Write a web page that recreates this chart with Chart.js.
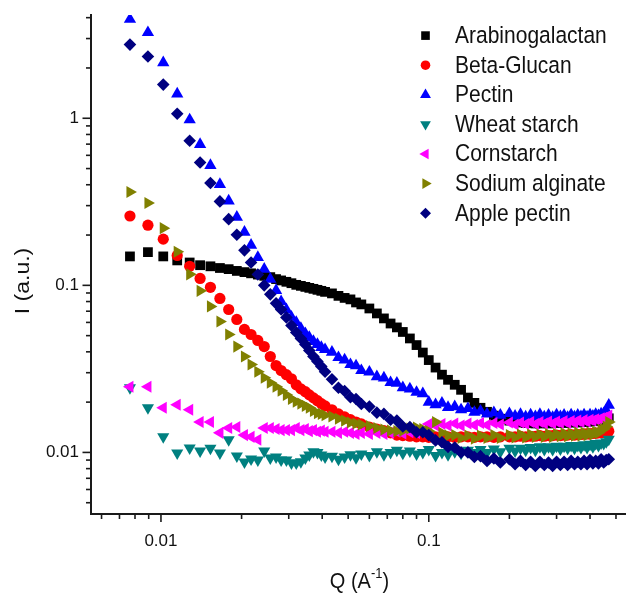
<!DOCTYPE html>
<html><head><meta charset="utf-8">
<script src="https://cdn.jsdelivr.net/npm/chart.js@4.4.0/dist/chart.umd.min.js"></script>
<style>html,body{margin:0;padding:0;background:#fff;}#wrap{width:626px;height:594px;}</style>
</head><body><div id="wrap"><canvas id="c" width="626" height="594"></canvas></div>
<script>
// Q values (A^-1)
const Q = [0.00766,0.00894,0.0102,0.0115,0.0128,0.0140,0.0153,0.0166,0.0179,0.0192,0.0205,0.0217,0.0230,0.0243,0.0256,0.0269,0.0281,0.0294,0.0307,0.0320,0.0333,0.0346,0.0358,0.0371,0.0384,0.0397,0.0410,
0.0435,0.046,0.0485,0.051,0.0535,0.056,0.060,0.064,0.068,0.072,0.076,0.080,0.085,0.090,0.095,
0.100,0.106,0.112,0.118,0.125,0.132,0.140,0.148,0.156,0.165,0.175,0.185,
0.20,0.21,0.22,0.23,0.24,0.25,0.26,0.27,0.28,0.29,0.30,0.31,0.32,0.33,0.34,0.35,0.36,0.37,0.38,0.39,0.40,0.41,0.42,0.43,0.44,0.45,0.46,0.47];

const arabinogalactan = [0.149,0.158,0.149,0.141,0.137,0.132,0.130,0.127,0.125,0.122,0.120,0.118,0.116,0.114,0.112,0.109,0.107,0.105,0.103,0.1007,0.0993,0.0979,0.0966,0.0953,0.0940,0.0927,0.0914,
0.0895,0.0865,0.0841,0.0824,0.0790,0.0769,0.0727,0.0679,0.0634,0.0591,0.0560,0.0526,0.0481,0.0439,0.0396,
0.0357,0.0322,0.0292,0.0272,0.0254,0.0237,0.0213,0.0198,0.0185,0.0175,0.0166,0.0159,
0.0155,0.0152,0.0151,0.0150,0.0150,0.0149,0.0149,0.0150,0.0149,0.0150,0.0150,0.0151,0.0150,0.0151,0.0151,0.0152,0.0151,0.0152,0.0152,0.0153,0.0153,0.0154,0.0154,0.0155,0.0156,0.0157,0.0158,0.0160];

const betaGlucan = [0.260,0.229,0.189,0.151,0.130,0.110,0.0973,0.0835,0.0717,0.0625,0.0545,0.0508,0.0468,0.0430,0.0375,0.0331,0.0309,0.0292,0.0276,0.0254,0.0240,0.0231,0.0221,0.0212,0.0204,0.0196,0.0190,
0.0180,0.0170,0.0163,0.0157,0.0152,0.0148,0.0142,0.0138,0.0135,0.0131,0.0127,0.0126,0.0125,0.0124,0.0124,
0.0123,0.0124,0.0123,0.0124,0.0123,0.0124,0.0124,0.0123,0.0124,0.0124,0.0123,0.0124,
0.0124,0.0124,0.0125,0.0124,0.0125,0.0125,0.0126,0.0125,0.0126,0.0126,0.0127,0.0126,0.0127,0.0127,0.0128,0.0127,0.0128,0.0128,0.0129,0.0129,0.0129,0.0130,0.0130,0.0131,0.0131,0.0132,0.0133,0.0134];

const pectin = [3.91,3.26,2.15,1.40,0.980,0.698,0.522,0.402,0.320,0.256,0.208,0.174,0.147,0.125,0.109,0.0933,0.0800,0.0715,0.0645,0.0600,0.0552,0.0515,0.0488,0.0462,0.0443,0.0425,0.0413,
0.0398,0.0370,0.0358,0.0336,0.0330,0.0309,0.0303,0.0284,0.0279,0.0262,0.0260,0.0244,0.0240,0.0229,0.0225,
0.0200,0.0193,0.0197,0.0186,0.0188,0.0180,0.0183,0.0174,0.0177,0.0170,0.0173,0.0167,
0.0171,0.0165,0.0169,0.0163,0.0168,0.0164,0.0169,0.0163,0.0167,0.0162,0.0168,0.0164,0.0167,0.0162,0.0168,0.0163,0.0167,0.0164,0.0168,0.0163,0.0168,0.0165,0.0169,0.0166,0.0170,0.0171,0.0178,0.0192];

const wheatStarch = [0.0244,0.0185,0.0124,0.00993,0.01064,0.0102,0.0106,0.00993,0.0119,0.00953,0.00877,0.00914,0.00902,0.0102,0.00927,0.00940,0.00902,0.00902,0.00865,0.00865,0.00880,0.00927,0.00966,0.0101,0.0100,0.00966,0.00940,
0.0095,0.0091,0.0094,0.0097,0.0093,0.0098,0.0096,0.0101,0.0097,0.0100,0.0103,0.0099,0.0102,0.0098,0.0100,
0.0104,0.0096,0.0100,0.0097,0.0101,0.0099,0.0103,0.0100,0.0104,0.0100,0.0105,0.0101,
0.0106,0.0102,0.0106,0.0103,0.0107,0.0103,0.0108,0.0104,0.0108,0.0104,0.0109,0.0105,0.0109,0.0106,0.0110,0.0106,0.0110,0.0107,0.0111,0.0107,0.0112,0.0108,0.0113,0.0110,0.0114,0.0113,0.0116,0.0120];

const cornstarch = [0.0247,0.0247,0.0185,0.0193,0.0180,0.0152,0.0152,0.0131,0.0140,0.0142,0.0127,0.0124,0.0119,0.0140,0.0140,0.0138,0.0136,0.0136,0.0136,0.0140,0.0136,0.0138,0.0134,0.0136,0.0133,0.0135,0.0133,
0.0133,0.0131,0.0133,0.0131,0.0129,0.0131,0.0129,0.0131,0.0129,0.0131,0.0133,0.0130,0.0132,0.0131,0.0133,
0.0148,0.0145,0.0148,0.0145,0.0149,0.0145,0.0149,0.0146,0.0150,0.0146,0.0150,0.0147,
0.0151,0.0147,0.0151,0.0148,0.0152,0.0148,0.0152,0.0149,0.0153,0.0149,0.0153,0.0150,0.0154,0.0150,0.0154,0.0151,0.0155,0.0152,0.0156,0.0153,0.0157,0.0155,0.0158,0.0157,0.0160,0.0161,0.0163,0.0166];

const sodiumAlginate = [0.362,0.311,0.220,0.159,0.1164,0.0927,0.0748,0.0608,0.0508,0.0430,0.0375,0.0336,0.0304,0.0280,0.0261,0.0247,0.0234,0.0221,0.0209,0.0201,0.0196,0.0190,0.0185,0.0177,0.0172,0.0170,0.0167,
0.0164,0.0159,0.0155,0.0151,0.0149,0.0147,0.0144,0.0140,0.0137,0.0135,0.0134,0.0135,0.0139,0.0141,0.0138,
0.0134,0.0152,0.0131,0.0126,0.0127,0.0122,0.0126,0.0121,0.0126,0.0122,0.0127,0.0122,
0.0127,0.0123,0.0128,0.0123,0.0128,0.0124,0.0128,0.0124,0.0129,0.0124,0.0129,0.0125,0.0130,0.0125,0.0130,0.0126,0.0131,0.0126,0.0131,0.0127,0.0132,0.0128,0.0133,0.0131,0.0136,0.0138,0.0143,0.0152];

const applePectin = [2.76,2.34,1.59,1.064,0.733,0.544,0.410,0.318,0.249,0.201,0.162,0.137,0.116,0.100,0.0883,0.0780,0.0718,0.0643,0.0575,0.0522,0.0481,0.0443,0.0407,0.0375,0.0350,0.0327,0.0304,
0.0274,0.0244,0.0233,0.0214,0.0209,0.0195,0.0188,0.0173,0.0170,0.0157,0.0155,0.0143,0.0142,0.0132,0.0132,
0.0127,0.0118,0.0115,0.0108,0.0107,0.0100,0.0100,0.0094,0.0095,0.0089,0.0092,0.0087,
0.0091,0.0085,0.0089,0.0084,0.0088,0.0083,0.0088,0.0084,0.0087,0.0083,0.0088,0.0084,0.0088,0.0084,0.0089,0.0085,0.0088,0.0085,0.0089,0.0085,0.0090,0.0086,0.0089,0.0086,0.0091,0.0087,0.0090,0.0091];

const seriesNames = ['Arabinogalactan','Beta-Glucan','Pectin','Wheat starch','Cornstarch','Sodium alginate','Apple pectin'];
const seriesValues = [arabinogalactan, betaGlucan, pectin, wheatStarch, cornstarch, sodiumAlginate, applePectin];
const seriesColors = ['#000000','#FF0000','#0000FF','#008080','#FF00FF','#808000','#000080'];

const xMajorTicks = [0.01, 0.1];
const xMinorTicks = [0.006,0.007,0.008,0.009,0.02,0.03,0.04,0.05,0.06,0.07,0.08,0.09,0.2,0.3,0.4,0.5];
const yMajorTicks = [0.01, 0.1, 1];
const yMinorTicks = [0.005,0.006,0.007,0.008,0.009,0.02,0.03,0.04,0.05,0.06,0.07,0.08,0.09,0.2,0.3,0.4,0.5,0.6,0.7,0.8,0.9,2,3,4];

const FONT = '"Liberation Sans", Arial, sans-serif';
const AXIS = '#1a1a1a';
const markers = [
  {style:'rect', radius:6.9, rotation:0},
  {style:'circle', radius:5.6, rotation:0},
  {style:'triangle', radius:7.1, rotation:0},
  {style:'triangle', radius:7.0, rotation:180},
  {style:'triangle', radius:7.0, rotation:270},
  {style:'triangle', radius:7.0, rotation:90},
  {style:'rectRot', radius:6.3, rotation:0}
];

const datasets = seriesNames.map((name, i) => ({
  label: name,
  data: Q.map((q, j) => ({x: q, y: seriesValues[i][j]})),
  showLine: false,
  pointStyle: markers[i].style,
  pointRadius: markers[i].radius,
  pointRotation: markers[i].rotation,
  pointBackgroundColor: seriesColors[i],
  pointBorderColor: seriesColors[i],
  pointBorderWidth: 0,
  backgroundColor: seriesColors[i],
  borderColor: seriesColors[i],
  order: seriesNames.length - 1 - i
}));

const extras = {
  id: 'extras',
  afterDraw(chart) {
    const ctx = chart.ctx, xs = chart.scales.x, ys = chart.scales.y, ca = chart.chartArea;
    ctx.save();
    ctx.strokeStyle = AXIS; ctx.lineWidth = 1.6;
    const tick = (x1,y1,x2,y2) => { ctx.beginPath(); ctx.moveTo(x1,y1); ctx.lineTo(x2,y2); ctx.stroke(); };
    xMajorTicks.forEach(v => { const p = xs.getPixelForValue(v); tick(p, ca.bottom, p, ca.bottom + 8); });
    xMinorTicks.forEach(v => { const p = xs.getPixelForValue(v); tick(p, ca.bottom, p, ca.bottom + 5); });
    yMajorTicks.forEach(v => { const p = ys.getPixelForValue(v); tick(ca.left, p, ca.left - 8.5, p); });
    yMinorTicks.forEach(v => { const p = ys.getPixelForValue(v); tick(ca.left, p, ca.left - 5, p); });

    // axis titles
    ctx.fillStyle = '#111';
    ctx.save();
    ctx.translate(23, 281); ctx.rotate(-Math.PI/2); ctx.scale(1.15, 1);
    ctx.font = '20px ' + FONT; ctx.textAlign = 'center'; ctx.textBaseline = 'middle';
    ctx.fillText('I (a.u.)', 0, 0);
    ctx.restore();

    ctx.save();
    const cx = (ca.left + ca.right) / 2 + 1;
    ctx.translate(0, 588); ctx.scale(1, 1.12);
    ctx.textBaseline = 'alphabetic'; ctx.textAlign = 'left';
    ctx.font = '20px ' + FONT; const a = 'Q (A', c = ')';
    const wa = ctx.measureText(a).width, wc = ctx.measureText(c).width;
    ctx.font = '13px ' + FONT; const sup = '-1'; const ws = ctx.measureText(sup).width;
    let x0 = cx - (wa + ws + wc) / 2;
    ctx.font = '20px ' + FONT; ctx.fillText(a, x0, 0);
    ctx.font = '13px ' + FONT; ctx.fillText(sup, x0 + wa, -9);
    ctx.font = '20px ' + FONT; ctx.fillText(c, x0 + wa + ws, 0);
    ctx.restore();

    // legend
    chart.data.datasets.forEach((ds, i) => {
      const y = 35.6 + i * 29.6;
      ctx.fillStyle = seriesColors[i];
      Chart.helpers.drawPoint(ctx, {pointStyle: markers[i].style, radius: markers[i].radius - 0.8, rotation: markers[i].rotation, borderWidth: 0}, 425.5, y);
      ctx.save();
      ctx.translate(455, y + 1); ctx.scale(1, 1.1);
      ctx.fillStyle = '#111'; ctx.font = '21px ' + FONT; ctx.textAlign = 'left'; ctx.textBaseline = 'middle';
      ctx.fillText(ds.label, 0, 0);
      ctx.restore();
    });
    ctx.restore();
  }
};

new Chart(document.getElementById('c'), {
  type: 'scatter',
  data: { datasets },
  plugins: [extras],
  options: {
    responsive: false, animation: false, devicePixelRatio: 1, events: [],
    layout: { autoPadding: false, padding: { top: 15, left: 0, right: 0, bottom: 0 } },
    plugins: { legend: { display: false }, tooltip: { enabled: false } },
    scales: {
      x: {
        type: 'logarithmic', min: 0.00548, max: 0.545,
        afterBuildTicks: s => { s.ticks = xMajorTicks.map(v => ({value: v})); },
        afterFit: s => { s.height = 80; s.paddingLeft = 0; s.paddingRight = 0; },
        grid: { display: false, drawTicks: false, drawOnChartArea: false },
        border: { display: true, color: AXIS, width: 2 },
        ticks: { autoSkip: false, maxRotation: 0, padding: 17, color: '#111', font: { family: FONT, size: 17 }, callback: v => String(v) }
      },
      y: {
        type: 'logarithmic', min: 0.00428, max: 4.15,
        afterBuildTicks: s => { s.ticks = yMajorTicks.map(v => ({value: v})); },
        afterFit: s => { s.width = 91; s.paddingTop = 0; s.paddingBottom = 0; },
        grid: { display: false, drawTicks: false, drawOnChartArea: false },
        border: { display: true, color: AXIS, width: 2 },
        ticks: { autoSkip: false, padding: 12, color: '#111', font: { family: FONT, size: 17 }, callback: v => String(v) }
      }
    }
  }
});
</script></body></html>
